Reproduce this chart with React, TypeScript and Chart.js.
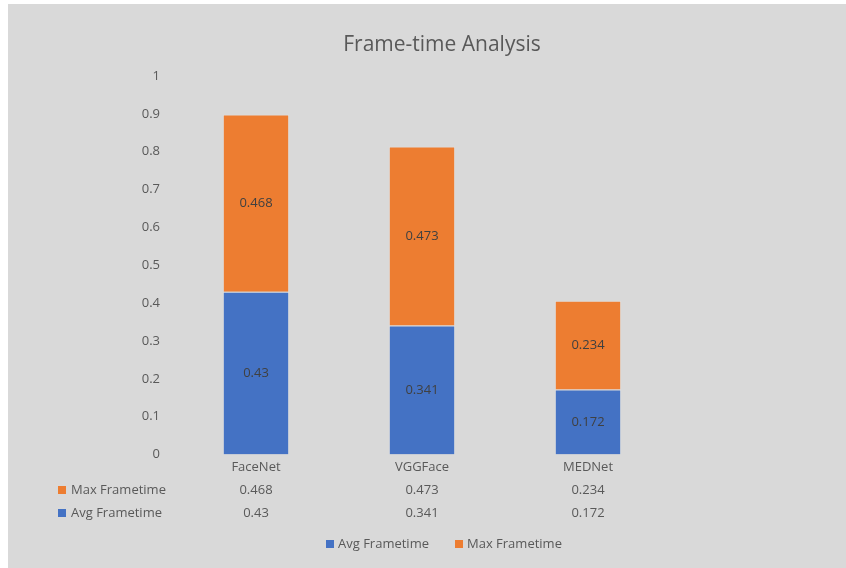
import React, { useEffect, useRef } from "react";
import { Chart, registerables } from "chart.js";

Chart.register(...registerables);

// Chart data
const categories = ["FaceNet", "VGGFace", "MEDNet"];
const avgFrametime = [0.43, 0.341, 0.172];
const maxFrametime = [0.468, 0.473, 0.234];
const seriesNames = ["Avg Frametime", "Max Frametime"];
const chartTitle = "Frame-time Analysis";
const yMin = 0;
const yMax = 1;
const yStep = 0.1;

const BLUE = "#4472C4";
const ORANGE = "#ED7D31";
const TEXT = "#595959";
const LABEL = "#404040";
const FONT = '"Open Sans", "Noto Sans", sans-serif';

const W = 838;
const H = 564;

// Segment value labels, centred inside each stacked piece
const valueLabels = {
  id: "valueLabels",
  afterDatasetsDraw(chart: any) {
    const ctx = chart.ctx;
    ctx.save();
    ctx.font = `13px ${FONT}`;
    ctx.fillStyle = LABEL;
    ctx.textAlign = "center";
    ctx.textBaseline = "middle";
    chart.data.datasets.forEach((ds: any, di: number) => {
      const meta = chart.getDatasetMeta(di);
      meta.data.forEach((el: any, i: number) => {
        const { x, y, base } = el.getProps(["x", "y", "base"], true);
        ctx.fillText(String(ds.data[i]), x, (y + base) / 2);
      });
    });
    ctx.restore();
  },
};

// Title, data table under the axis and the bottom legend
const frameExtras = {
  id: "frameExtras",
  afterDraw(chart: any) {
    const ctx = chart.ctx;
    const xs = chart.scales.x;
    ctx.save();

    // title
    ctx.fillStyle = TEXT;
    ctx.font = `21px ${FONT}`;
    ctx.textAlign = "center";
    ctx.textBaseline = "middle";
    ctx.fillText(chartTitle, 434, 41);

    // data table
    ctx.font = `13px ${FONT}`;
    const rows = [
      { name: seriesNames[1], color: ORANGE, values: maxFrametime, y: 486 },
      { name: seriesNames[0], color: BLUE, values: avgFrametime, y: 509 },
    ];
    rows.forEach((r) => {
      ctx.fillStyle = r.color;
      ctx.fillRect(50, r.y - 4, 8, 8);
      ctx.fillStyle = TEXT;
      ctx.textAlign = "left";
      ctx.fillText(r.name, 63, r.y);
      ctx.textAlign = "center";
      r.values.forEach((v, i) => {
        ctx.fillText(String(v), xs.getPixelForValue(i), r.y);
      });
    });

    // legend
    const legend = [
      { name: seriesNames[0], color: BLUE, x: 318 },
      { name: seriesNames[1], color: ORANGE, x: 447 },
    ];
    ctx.textAlign = "left";
    legend.forEach((l) => {
      ctx.fillStyle = l.color;
      ctx.fillRect(l.x, 540 - 4, 8, 8);
      ctx.fillStyle = TEXT;
      ctx.fillText(l.name, l.x + 12, 540);
    });

    ctx.restore();
  },
};

export default function App() {
  const canvasRef = useRef<HTMLCanvasElement | null>(null);

  useEffect(() => {
    if (!canvasRef.current) return;
    const chart = new Chart(canvasRef.current, {
      type: "bar",
      data: {
        labels: categories,
        datasets: [
          {
            label: seriesNames[0],
            data: avgFrametime,
            backgroundColor: BLUE,
            borderColor: "rgba(255,255,255,0.2)",
            borderWidth: 1,
          },
          {
            label: seriesNames[1],
            data: maxFrametime,
            backgroundColor: ORANGE,
            borderColor: "rgba(255,255,255,0.2)",
            borderWidth: 1,
          },
        ],
      },
      options: {
        responsive: false,
        animation: false,
        layout: { padding: { top: 72, left: 0, right: 175, bottom: 0 } },
        datasets: {
          bar: { categoryPercentage: 1, barPercentage: 0.4 },
        },
        plugins: {
          legend: { display: false },
          title: { display: false },
          tooltip: { enabled: false },
        },
        scales: {
          x: {
            stacked: true,
            grid: { display: false, drawTicks: false },
            border: { display: false },
            ticks: {
              color: TEXT,
              font: { family: FONT, size: 13 },
              padding: 5,
            },
            afterFit(scale: any) {
              scale.height = 113.5;
            },
          },
          y: {
            stacked: true,
            min: yMin,
            max: yMax,
            grid: { display: false, drawTicks: false },
            border: { display: false },
            ticks: {
              stepSize: yStep,
              color: TEXT,
              font: { family: FONT, size: 13 },
              padding: 13,
              callback: (v: any) => String(Number(Number(v).toFixed(1))),
            },
            afterFit(scale: any) {
              scale.width = 165;
            },
          },
        },
      },
      plugins: [valueLabels, frameExtras],
    });
    return () => chart.destroy();
  }, []);

  return (
    <div
      style={{
        position: "absolute",
        left: 8,
        top: 4,
        width: W,
        height: H,
        background: "#D9D9D9",
      }}
    >
      <canvas ref={canvasRef} width={W} height={H} style={{ display: "block" }} />
    </div>
  );
}
